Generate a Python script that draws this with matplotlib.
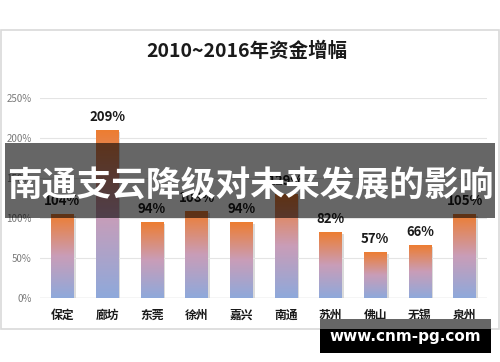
import numpy as np
import matplotlib
matplotlib.use("Agg")
import matplotlib.pyplot as plt
from matplotlib.patches import Rectangle
from matplotlib.colors import LinearSegmentedColormap

plt.rcParams['font.family'] = ['Noto Sans CJK SC', 'DejaVu Sans']

# data
cities = ["保定", "廊坊", "东莞", "徐州", "嘉兴", "南通", "苏州", "佛山", "无锡", "泉州"]
growth = [104, 209, 94, 108, 94, 129, 82, 57, 66, 105]
yticks = [0, 50, 100, 150, 200, 250]
title = "2010~2016年资金增幅"
banner = "南通支云降级对未来发展的影响"
site = "www.cnm-pg.com"

W, H = 500, 362
fig = plt.figure(figsize=(W / 100, H / 100), dpi=100)
fig.patch.set_facecolor("white")

# chart frame
fig.patches.append(Rectangle((1 / W, 1 - 329 / H), 498 / W, 299 / H, transform=fig.transFigure,
                             fill=False, edgecolor="#D9D9D9", lw=1.2, zorder=0))

ax = fig.add_axes([40 / W, 1 - 298 / H, 447 / W, 200 / H])
ax.set_facecolor("none")
for s in ax.spines.values():
    s.set_visible(False)

cmap = LinearSegmentedColormap.from_list("bar", ["#8EA9DB", "#C99DB8", "#ED7D31"])
grad = np.linspace(0, 1, 256).reshape(-1, 1)
bw = 0.5
x = np.arange(len(cities))
for xi, v in zip(x, growth):
    # shadow
    ax.add_patch(Rectangle((xi + bw / 2, 0), 0.05, v - 2, color="#C4C4C4", alpha=0.6, zorder=1.5, lw=0))
    ax.imshow(grad, extent=[xi - bw / 2, xi + bw / 2, 0, v], origin="lower", aspect="auto",
              cmap=cmap, zorder=2, interpolation="bilinear")
    ax.text(xi, v + 8, f"{v}%", ha="center", va="bottom", fontsize=9.5, fontweight="bold",
            color="#1a1a1a", zorder=3)

ax.set_xlim(-0.5, len(cities) - 0.5)
ax.set_ylim(0, 250)
ax.set_yticks(yticks)
ax.set_yticklabels([f"{t}%" for t in yticks], fontsize=7, color="#7a7a7a")
ax.yaxis.grid(True, color="#E4E4E4", lw=0.8, zorder=0)
ax.axhline(0, color="#D9D9D9", lw=1, zorder=1)
ax.set_xticks(x)
ax.set_xticklabels(cities, fontsize=8.5, fontweight="bold", color="#1a1a1a")
ax.tick_params(length=0, pad=8)
ax.tick_params(axis="y", pad=6)

fig.text(247 / W, 1 - 51 / H, title, ha="center", va="center", fontsize=14, fontweight="bold",
         color="#1a1a1a")

# overlay banner
fig.patches.append(Rectangle((5 / W, 1 - 218 / H), 490 / W, 75 / H, transform=fig.transFigure,
                             facecolor="black", alpha=0.6, lw=0, zorder=5))
fig.text(250 / W, 1 - 186 / H, banner, ha="center", va="center", fontsize=25, fontweight="bold",
         color="white", zorder=6)

# site label box
fig.patches.append(Rectangle((320 / W, 1 - 329 / H), 171 / W, 10 / H, transform=fig.transFigure,
                             facecolor="#666666", lw=0, zorder=5))
fig.patches.append(Rectangle((320 / W, 1 - 353 / H), 171 / W, 24 / H, transform=fig.transFigure,
                             facecolor="black", lw=0, zorder=5))
fig.text(405 / W, 1 - 337 / H, site, ha="center", va="center", fontsize=11, fontweight="bold",
         color="white", zorder=6, family="DejaVu Sans")

fig.savefig("out.png", dpi=100)
